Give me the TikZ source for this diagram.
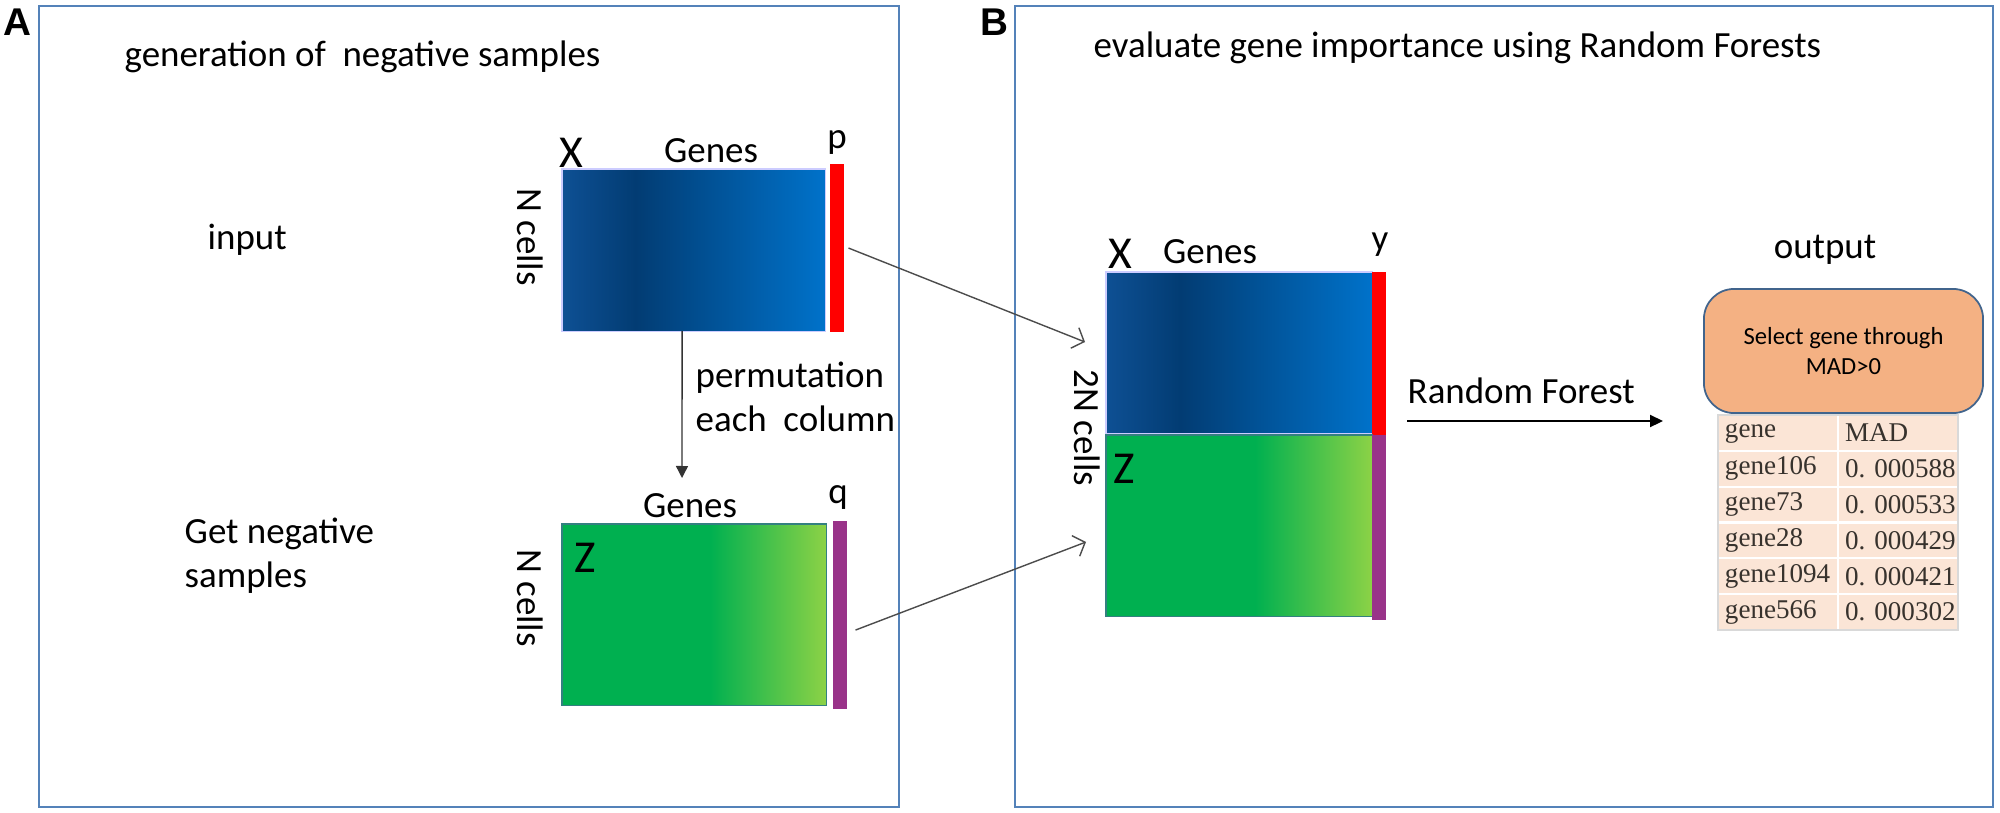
\documentclass[tikz,border=0pt]{standalone}
\usepackage{fontspec}
\setmainfont{Carlito}
\newfontfamily\tablefont{Liberation Serif}
\newfontfamily\panelfont{Liberation Sans}
\usetikzlibrary{arrows.meta,positioning}

\definecolor{framecol}{RGB}{84,130,185}
\definecolor{blueL}{RGB}{14,80,148}
\definecolor{blueD}{RGB}{2,60,115}
\definecolor{blueR}{RGB}{0,114,202}
\definecolor{greenD}{RGB}{0,176,80}
\definecolor{greenL}{RGB}{140,210,70}
\definecolor{barRed}{RGB}{255,0,0}
\definecolor{barPurple}{RGB}{153,51,137}
\definecolor{boxOrange}{RGB}{244,177,131}
\definecolor{boxEdge}{RGB}{65,100,140}
\definecolor{cellFill}{RGB}{251,229,214}
\definecolor{cellText}{RGB}{55,50,45}

\pgfdeclarehorizontalshading{genesblue}{100bp}{color(0bp)=(blueL); color(25bp)=(blueL); color(39bp)=(blueD); color(75bp)=(blueR); color(100bp)=(blueR)}
\pgfdeclarehorizontalshading{genesgreen}{100bp}{color(0bp)=(greenD); color(25bp)=(greenD); color(53bp)=(greenD); color(75bp)=(greenL); color(100bp)=(greenL)}

\begin{document}
\begin{tikzpicture}[
        x=0.01cm, y=-0.01cm,
        panel/.style={draw=framecol, line width=0.6pt},
        panelname/.style={font=\panelfont\bfseries\fontsize{11}{13}\selectfont, inner sep=0},
        lbl/.style={font=\fontsize{10.5}{12.5}\selectfont, inner sep=0},
        matname/.style={font=\fontsize{13}{15}\selectfont, inner sep=0},
        mat/.style={rectangle, inner sep=0, outer sep=0, anchor=north west, line width=0.3pt},
        bluemat/.style={mat, shading=genesblue, draw=blue!20},
        greenmat/.style={mat, shading=genesgreen, draw=teal!60!gray},
        bar/.style={rectangle, inner sep=0, outer sep=0, anchor=north west, minimum width=0.135cm},
        flow/.style={draw=black!70, line width=0.4pt, -{Straight Barb[length=0.1cm,width=0.22cm]}},
        permarrow/.style={draw=black!80, line width=0.4pt, -{Triangle[length=0.12cm,width=0.12cm]}},
        rfarrow/.style={draw=black, line width=0.6pt, -{Triangle[length=0.13cm,width=0.12cm]}},
        selbox/.style={rectangle, rounded corners=0.3cm, fill=boxOrange, draw=boxEdge, line width=0.5pt,
            minimum width=2.79cm, minimum height=1.24cm, align=center,
            font=\fontsize{7}{8.3}\selectfont},
        cell/.style={rectangle, fill=cellFill, draw=white, line width=0.6pt,
            minimum width=1.2cm, minimum height=0.358cm, text width=1.06cm, align=left,
            inner xsep=0.07cm, inner ysep=0, outer sep=0,
            font=\tablefont\fontsize{7.7}{9}\selectfont, text=cellText}
        ]
        \useasboundingbox (0,0) rectangle (2000,812);

        % panels
        \draw[panel] (39,6) rectangle (899,807);
        \draw[panel] (1015,6) rectangle (1993,807);
        \node[panelname] (nameA) at (17,22) {A};
        \node[panelname] (nameB) at (994,22) {B};
        \node[lbl, anchor=west] (titleA) at (124,57) {generation of\ \ negative samples};
        \node[lbl, anchor=west] (titleB) at (1093,48) {evaluate gene importance using Random Forests};

        % panel A
        \node[lbl, anchor=west] (input) at (207,240) {input};
        \node[lbl, anchor=west, align=left] (getneg) at (184,556) {Get negative\\samples};

        \node[bluemat, minimum width=2.63cm, minimum height=1.62cm] (xA) at (562,169) {};
        \node[bar, fill=barRed, minimum height=1.68cm] (pA) at (830,164) {};
        \node[matname, anchor=base] (xlabA) at (571,167) {X};
        \node[lbl, anchor=base] (genA) at (711,162) {Genes};
        \node[lbl, anchor=base] (plab) at (837,148) {p};
        \node[lbl, rotate=-90] (ncA) at (530,237) {N cells};

        \node[greenmat, minimum width=2.64cm, minimum height=1.81cm] (zA) at (562,524) {};
        \node[bar, fill=barPurple, minimum height=1.88cm] (qA) at (833,521) {};
        \node[matname] (zlabA) at (585,558) {Z};
        \node[lbl, anchor=base] (genZ) at (690,517) {Genes};
        \node[lbl, anchor=base] (qlab) at (838,503) {q};
        \node[lbl, rotate=-90] (ncZ) at (530,598) {N cells};

        \coordinate (permEnd) at (682,478);
        \draw[permarrow] ([xshift=-0.115cm]xA.south) -- (permEnd);
        \node[lbl, anchor=west, align=left] (perm) at (695,397) {permutation\\each\ \ column};

        % panel B
        \node[bluemat, minimum width=2.66cm, minimum height=1.61cm] (xB) at (1106,272) {};
        \node[bar, fill=barRed, minimum height=1.65cm] (yB) at (1372,272) {};
        \node[greenmat, minimum width=2.66cm, minimum height=1.81cm] (zB) at (1106,435) {};
        \node[bar, fill=barPurple, minimum height=1.85cm] (qB) at (1372,435) {};
        \node[matname, anchor=base] (xlabB) at (1120,268) {X};
        \node[lbl, anchor=base] (genB) at (1210,263) {Genes};
        \node[lbl, anchor=base] (ylab) at (1380,250) {y};
        \node[matname] (zlabB) at (1124,469) {Z};
        \node[lbl, rotate=-90] (ncB) at (1087,428) {2N cells};

        \coordinate (inX) at (1085,342);
        \coordinate (inZ) at (1086,542);
        \draw[flow] ([xshift=0.05cm]pA.east) -- (inX);
        \draw[flow] ([shift={(9,15)}]qA.east) -- (inZ);

        \node[lbl, anchor=base west] (rf) at (1407,403) {Random Forest};
        \coordinate (rfTo) at (1663,421);
        \draw[rfarrow] (rf.south west |- rfTo) -- (rfTo);

        \node[lbl] (out) at (1825,250) {output};
        \node[selbox] (sel) at (1843.5,351) {Select gene through\\MAD>0};

        % table of MAD values
        \foreach \g/\v [count=\r from 0] in {gene/MAD, gene106/0.~000588, gene73/0.~000533,
            gene28/0.~000429, gene1094/0.~000421, gene566/0.~000302}{
            \node[cell] (gn\r) at (1778,{433+35.8*\r}) {\g};
            \node[cell, right=0 of gn\r] (mv\r) {\mbox{\v}};
        }
        \draw[draw=black!15, line width=0.4pt] (gn0.north west) rectangle (mv5.south east);
\end{tikzpicture}
\end{document}
